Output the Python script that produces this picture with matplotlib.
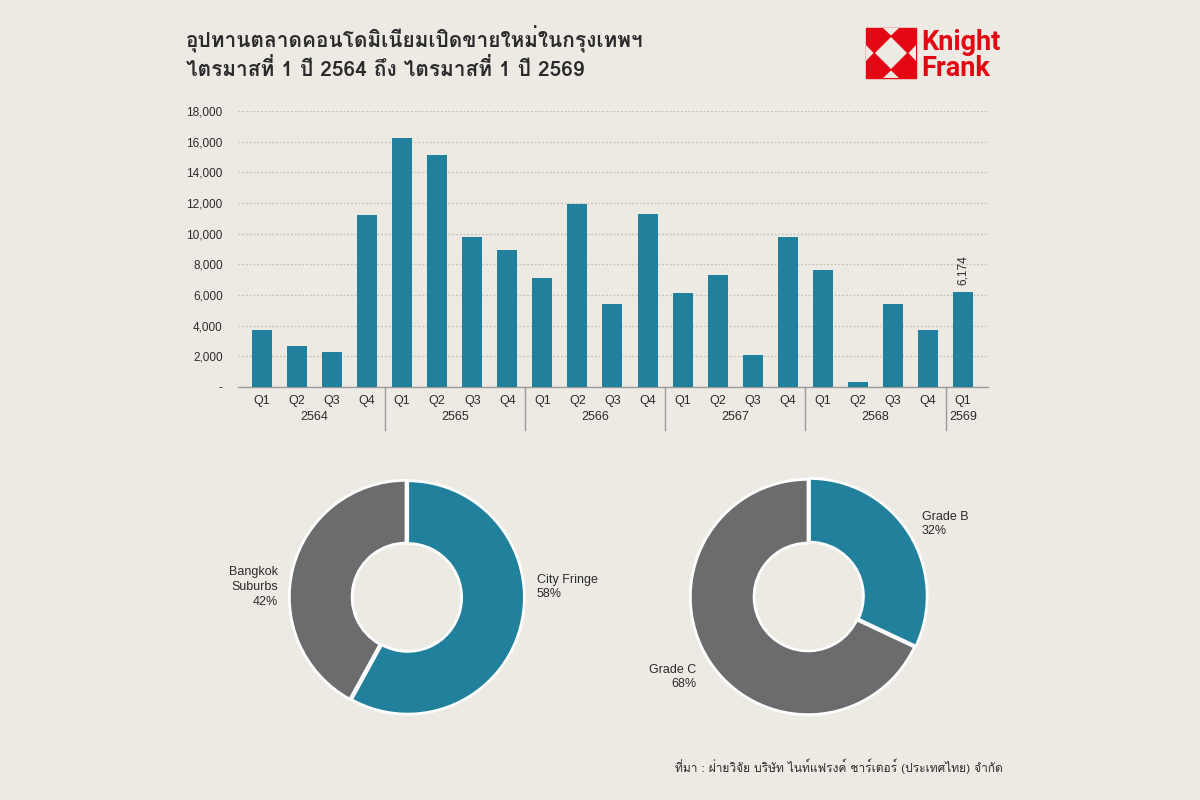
import matplotlib
matplotlib.use("Agg")
import matplotlib.pyplot as plt
from matplotlib import font_manager
from matplotlib.ft2font import FT2Font
from matplotlib.patches import Polygon
import matplotlib.transforms as mtransforms

# ---------------- data ----------------
quarters = ["Q1", "Q2", "Q3", "Q4"] * 5 + ["Q1"]
years = ["2564", "2565", "2566", "2567", "2568", "2569"]
year_sizes = [4, 4, 4, 4, 4, 1]
supply = [3700, 2650, 2300, 11250, 16250, 15150, 9800, 8950,
          7100, 11950, 5400, 11300, 6100, 7300, 2100, 9800,
          7600, 300, 5400, 3750, 6174]
yticks = [0, 2000, 4000, 6000, 8000, 10000, 12000, 14000, 16000, 18000]
ytick_labels = ["-", "2,000", "4,000", "6,000", "8,000", "10,000",
                "12,000", "14,000", "16,000", "18,000"]
loc_labels = ["City Fringe", "Bangkok\nSuburbs"]
loc_share = [58, 42]
grade_labels = ["Grade B", "Grade C"]
grade_share = [32, 68]
title = "อุปทานตลาดคอนโดมิเนียมเปิดขายใหม่ในกรุงเทพฯ\nไตรมาสที่ 1 ปี 2564 ถึง ไตรมาสที่ 1 ปี 2569"
source = "ที่มา : ฝ่ายวิจัย บริษัท ไนท์แฟรงค์ ชาร์เตอร์ (ประเทศไทย) จำกัด"

# ---------------- fonts ----------------
def find_thai_fonts():
    found = []
    seen = set()
    for f in font_manager.fontManager.ttflist:
        if f.name in seen:
            continue
        try:
            cm = FT2Font(f.fname).get_charmap()
        except Exception:
            continue
        if 0x0E2D in cm and 0x0E01 in cm:
            found.append(f.name)
            seen.add(f.name)
    return found

thai = find_thai_fonts()
thai_family = (thai[:1] if thai else []) + ["Liberation Sans", "DejaVu Sans"]
plt.rcParams["font.family"] = ["Liberation Sans", "DejaVu Sans"]

BG = "#EDEAE4"
TEAL = "#21809B"
GREY = "#6B6C6E"
TXT = "#2B2B2B"
RED = "#E30613"

fig = plt.figure(figsize=(12, 8), dpi=100, facecolor=BG)
W, H = 1200, 800

def fx(px):
    return px / W

def fy(py):
    return 1 - py / H

# ---------------- bar chart ----------------
left, right, top, bottom = 238, 988, 111, 387
ax = fig.add_axes([fx(left), fy(bottom), fx(right - left), (bottom - top) / H])
ax.set_facecolor(BG)
x = list(range(len(supply)))
ax.bar(x, supply, width=0.57, color=TEAL, zorder=3)
ax.set_xlim(-0.68, len(supply) - 1 + 0.71)
ax.set_ylim(0, 18000)
ax.set_yticks(yticks)
ax.set_yticklabels(ytick_labels, fontsize=8.5, color=TXT)
ax.tick_params(axis="y", length=0, pad=11)
ax.tick_params(axis="x", length=0)
ax.set_xticks(x)
ax.set_xticklabels(quarters, fontsize=9, color=TXT)
ax.tick_params(axis="x", pad=5.5)
for s in ["top", "right", "left"]:
    ax.spines[s].set_visible(False)
ax.spines["bottom"].set_color("#9A9A9A")
ax.spines["bottom"].set_linewidth(1.0)
for yv in yticks[1:]:
    ax.axhline(yv, color="#C4C1BB", lw=0.9, ls=(0, (1.5, 1.5)), zorder=1)

trans = mtransforms.blended_transform_factory(ax.transData, ax.transAxes)
start = 0
ph = bottom - top
for yr, n in zip(years, year_sizes):
    center = start + (n - 1) / 2
    ax.text(center, -(417.5 - bottom) / ph, yr, transform=trans, ha="center",
            va="center", fontsize=9, color=TXT)
    if start > 0:
        ax.plot([start - 0.5, start - 0.5], [0, -(430 - bottom) / ph],
                transform=trans, color="#9A9A9A", lw=1.0, clip_on=False)
    start += n

ax.annotate(f"{supply[-1]:,}", xy=(x[-1], supply[-1]), xytext=(0, 5),
            textcoords="offset points", rotation=90, ha="center", va="bottom",
            fontsize=8.5, color=TXT)

# ---------------- donuts ----------------
def donut(cx, cy, r, rin, values, colors):
    a = fig.add_axes([fx(cx - r), fy(cy + r), 2 * r / W, 2 * r / H])
    a.set_facecolor("none")
    a.pie(values, colors=colors, startangle=90, counterclock=False,
          radius=1.0, explode=[0.015, 0],
          wedgeprops=dict(width=1 - rin / r, edgecolor="white", linewidth=2.0))
    a.set_xlim(-1.02, 1.02)
    a.set_ylim(-1.02, 1.02)
    a.set_aspect("equal")
    a.axis("off")
    return a

donut(406, 597, 119, 55, loc_share, [TEAL, GREY])
donut(808, 597, 120, 55, grade_share, [TEAL, GREY])

fig.text(fx(537), fy(587), f"{loc_labels[0]}\n{loc_share[0]}%", ha="left",
         va="center", fontsize=9, color=TXT, linespacing=1.3)
fig.text(fx(278), fy(587), f"{loc_labels[1]}\n{loc_share[1]}%", ha="right",
         va="center", fontsize=9, color=TXT, linespacing=1.3)
fig.text(fx(922), fy(524), f"{grade_labels[0]}\n{grade_share[0]}%", ha="left",
         va="center", fontsize=9, color=TXT, linespacing=1.3)
fig.text(fx(696), fy(677), f"{grade_labels[1]}\n{grade_share[1]}%", ha="right",
         va="center", fontsize=9, color=TXT, linespacing=1.3)

# ---------------- title / source ----------------
fig.text(fx(186), fy(53), title, ha="left", va="center", fontsize=15,
         fontweight="bold", color=TXT, family=thai_family, linespacing=1.3)
fig.text(fx(1003), fy(766), source, ha="right", va="center", fontsize=8.6,
         color=TXT, family=thai_family)

# ---------------- logo ----------------
lx0, ly0, s = 866, 28, 50  # pixel coords (top-left), size
def P(u, v):
    return (fx(lx0 + u * s), fy(ly0 + v * s))

fig.patches.append(Polygon([P(0, 0), P(1, 0), P(1, 1), P(0, 1)], closed=True,
                           transform=fig.transFigure, color=RED))
fig.patches.append(Polygon([P(0.5, 0.18), P(0.82, 0.5), P(0.5, 0.82), P(0.18, 0.5)],
                           closed=True, transform=fig.transFigure, color=BG, lw=0))
for poly in ([P(0.34, 0), P(0.66, 0), P(0.5, 0.15)],
             [P(0.34, 1), P(0.66, 1), P(0.5, 0.85)],
             [P(0, 0.34), P(0, 0.66), P(0.15, 0.5)],
             [P(1, 0.34), P(1, 0.66), P(0.85, 0.5)]):
    fig.patches.append(Polygon(poly, closed=True, transform=fig.transFigure,
                               color=BG, lw=0))
logo_font = ["Liberation Sans Narrow", "Roboto", "DejaVu Sans"]
fig.text(fx(921), fy(50), "Knight", ha="left", va="baseline", fontsize=19.5,
         fontweight="bold", color=RED, family=logo_font)
fig.text(fx(921), fy(76), "Frank", ha="left", va="baseline", fontsize=19.5,
         fontweight="bold", color=RED, family=logo_font)

fig.savefig("out.png", dpi=100, facecolor=BG)
